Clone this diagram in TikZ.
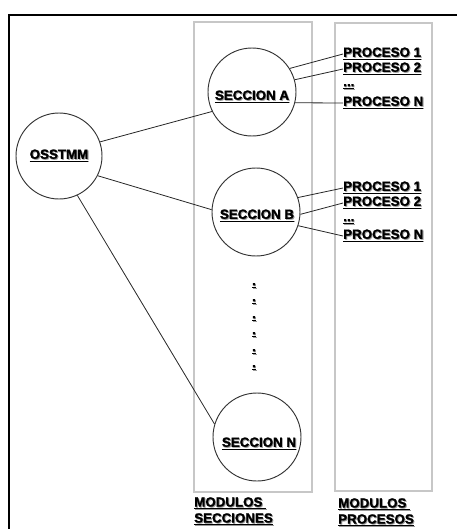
\documentclass[tikz,border=0pt]{standalone}
\usepackage{fontspec}
\setmainfont{Liberation Sans}[BoldFeatures={FakeBold=1.4}]
\usepackage{xcolor}
\usepackage{tikz}
\newcommand{\sombreado}[1]{\leavevmode\rlap{\kern0.7pt\raisebox{-0.7pt}{\textcolor{black!40}{\underline{#1}}}}\underline{#1}}
\tikzset{
  seccion/.style={circle, draw=black!80, line width=0.7pt, minimum size=66pt, inner sep=0pt},
  rotulo/.style={inner sep=0pt, font=\fontsize{10}{12}\selectfont\bfseries},
  modulo/.style={draw=black!22, line width=0.8pt},
  enlace/.style={draw=black!85, line width=0.6pt}
}

\begin{document}
\begin{tikzpicture}[x=0.75pt,y=-0.75pt]
\useasboundingbox (0,0) rectangle (457,529);
\draw[line width=1.6pt] (9,529)--(9,15)--(457,15);
\draw[modulo] (194,22) rectangle (312,492);
\draw[modulo] (335,23) rectangle (432,491);
\node[seccion, minimum size=64.5pt] (osstmm) at (59,156) {};
\node[seccion] (secA) at (252,92) {};
\node[seccion] (secB) at (256,212) {};
\node[seccion] (secN) at (257,437) {};
\node[rotulo] (tOS) at (59,156) {\sombreado{OSSTMM}};
\node[rotulo] (tA) at (252,97) {\sombreado{SECCION A}};
\node[rotulo] (tB) at (257,216) {\sombreado{SECCION B}};
\node[rotulo] (tN) at (259,444) {\sombreado{SECCION N}};
\foreach \y [count=\i] in {286,302,319,335,352,368}
  \node[rotulo] (pto\i) at (254,\y) {\sombreado{.}};
\node[rotulo, anchor=west] (pA1) at (343,54) {\sombreado{PROCESO 1}};
\node[rotulo, anchor=west] (pA2) at (343,69) {\sombreado{PROCESO 2}};
\node[rotulo, anchor=west] (pAd) at (343,87) {\sombreado{...}};
\node[rotulo, anchor=west] (pAN) at (343,103) {\sombreado{PROCESO N}};
\node[rotulo, anchor=west] (pB1) at (343,188) {\sombreado{PROCESO 1}};
\node[rotulo, anchor=west] (pB2) at (343,203) {\sombreado{PROCESO 2}};
\node[rotulo, anchor=west] (pBd) at (343,222) {\sombreado{...}};
\node[rotulo, anchor=west] (pBN) at (343,236) {\sombreado{PROCESO N}};
\node[rotulo, anchor=north west, align=left] (modSec) at (194,497) {\sombreado{MODULOS\ }\\\sombreado{SECCIONES}};
\node[rotulo, anchor=north west, align=left] (modProc) at (338,498) {\sombreado{MODULOS\ }\\\sombreado{PROCESOS}};
\draw[enlace] (osstmm.19)--(secA.206);
\draw[enlace] (osstmm.-27)--(secB.177);
\draw[enlace] (osstmm.-65)--(secN.163);
\draw[enlace] (secA.32)--(pA1.west);
\draw[enlace] (secA.16)--(pA2.west);
\draw[enlace] (secA.-14)--(pAN.west);
\draw[enlace] (secB.19)--(pB1.west);
\draw[enlace] (secB.-3)--(pB2.west);
\draw[enlace] (secB.-18)--(pBN.west);
\end{tikzpicture}
\end{document}
